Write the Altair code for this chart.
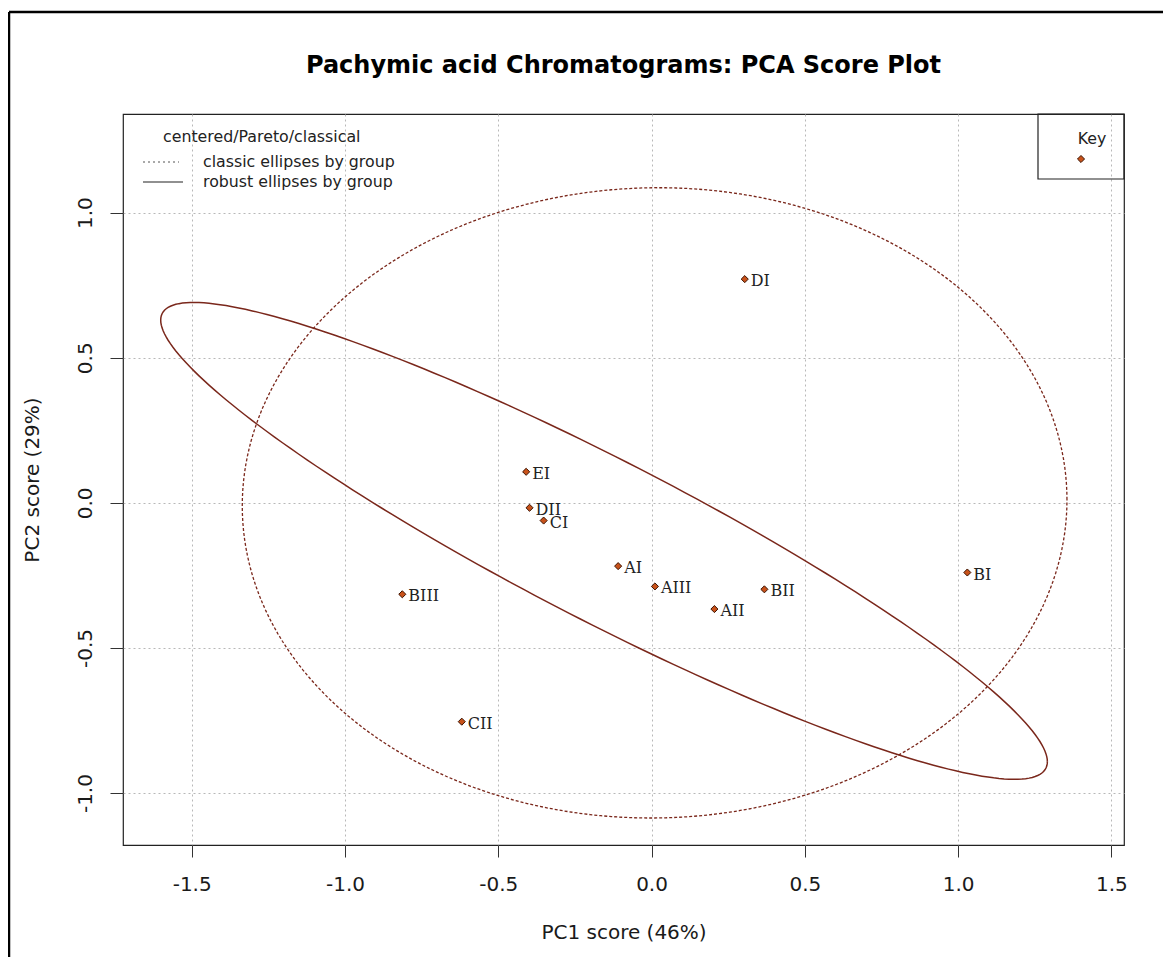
import altair as alt
import numpy as np
import pandas as pd

# ---- data ----
sample_labels = ["AI", "AII", "AIII", "BI", "BII", "BIII", "CI", "CII", "DI", "DII", "EI"]
pc1_scores = [-0.109, 0.205, 0.011, 1.030, 0.368, -0.813, -0.352, -0.619, 0.304, -0.398, -0.409]
pc2_scores = [-0.218, -0.366, -0.288, -0.240, -0.298, -0.315, -0.061, -0.754, 0.771, -0.017, 0.107]

x_ticks = [-1.5, -1.0, -0.5, 0.0, 0.5, 1.0, 1.5]
y_ticks = [-1.0, -0.5, 0.0, 0.5, 1.0]
x_domain = [-1.724, 1.541]
y_domain = [-1.179, 1.340]

# ellipse parameters (centre, shape matrix sxx, syy, sxy)
classic_center = [0.01, 0.0]
classic_shape = [1.345 ** 2, 1.086 ** 2, 0.014]
robust_center = [-0.155, -0.131]
robust_shape = [2.091, 0.675, -1.100]

chart_title = "Pachymic acid Chromatograms: PCA Score Plot"
legend_title = "centered/Pareto/classical"
legend_entries = ["classic ellipses by group", "robust ellipses by group"]
key_label = "Key"

ELL_COLOR = "#7a271b"
PT_FILL = "#c8521a"
PT_STROKE = "#3b1200"
SANS = "DejaVu Sans"


def ellipse_path(center, shape, n=241):
    sxx, syy, sxy = shape
    m = np.array([[sxx, sxy], [sxy, syy]])
    L = np.linalg.cholesky(m)
    t = np.linspace(0, 2 * np.pi, n)
    pts = L @ np.vstack([np.cos(t), np.sin(t)])
    return pd.DataFrame({"pc1": pts[0] + center[0], "pc2": pts[1] + center[1], "idx": np.arange(n)})


points_df = pd.DataFrame({"pc1": pc1_scores, "pc2": pc2_scores, "label": sample_labels})
classic_df = ellipse_path(classic_center, classic_shape)
robust_df = ellipse_path(robust_center, robust_shape)

label_expr = "datum.value < 0 ? '-' + format(-datum.value, '.1f') : format(datum.value, '.1f')"


def x_enc():
    return alt.X(
        "pc1:Q",
        scale=alt.Scale(domain=x_domain, nice=False, zero=False),
        axis=alt.Axis(
            values=x_ticks, labelExpr=label_expr, title="PC1 score (46%)",
            tickSize=12, tickColor="#333", tickWidth=1, domain=False,
            grid=True, gridDash=[2, 3], gridColor="#b8b8b8", gridWidth=1,
            labelFont=SANS, labelFontSize=20, labelColor="#1a1a1a", labelPadding=17,
            titleFont=SANS, titleFontSize=20, titleFontWeight="normal", titleColor="#1a1a1a",
            titlePadding=28, labelFlush=False, labelOverlap=False,
        ),
    )


def y_enc():
    return alt.Y(
        "pc2:Q",
        scale=alt.Scale(domain=y_domain, nice=False, zero=False),
        axis=alt.Axis(
            values=y_ticks, labelExpr=label_expr, title="PC2 score (29%)",
            tickSize=13, tickColor="#333", tickWidth=1, domain=False,
            grid=True, gridDash=[2, 3], gridColor="#b8b8b8", gridWidth=1,
            labelFont=SANS, labelFontSize=20, labelColor="#1a1a1a", labelPadding=15,
            labelAngle=270, labelAlign="center", labelBaseline="bottom",
            titleFont=SANS, titleFontSize=20, titleFontWeight="normal", titleColor="#1a1a1a",
            titlePadding=33, labelFlush=False, labelOverlap=False,
        ),
    )


classic_layer = alt.Chart(classic_df).mark_line(
    color=ELL_COLOR, strokeWidth=1.3, strokeDash=[3, 2]
).encode(x=x_enc(), y=y_enc(), order="idx:Q")

robust_layer = alt.Chart(robust_df).mark_line(
    color=ELL_COLOR, strokeWidth=1.5
).encode(x=x_enc(), y=y_enc(), order="idx:Q")

point_layer = alt.Chart(points_df).mark_point(
    shape="diamond", filled=True, fill=PT_FILL, stroke=PT_STROKE, strokeWidth=1, size=50, opacity=1
).encode(x=x_enc(), y=y_enc())

text_layer = alt.Chart(points_df).mark_text(
    align="left", baseline="middle", dx=6, dy=2, font="DejaVu Serif", fontSize=16, color="#222"
).encode(x=x_enc(), y=y_enc(), text="label:N")

# ---- decorations: title, legend, key box, figure frame ----
one = pd.DataFrame({"a": [0]})
base = alt.Chart(one)

title_mark = base.mark_text(align="center", baseline="alphabetic", font=SANS, fontSize=24,
                            fontWeight="bold", color="#000").encode(
    x=alt.value(500.5), y=alt.value(-41), text=alt.value(chart_title))

LEG_FS = 15.8
leg_title = base.mark_text(align="left", baseline="middle", font=SANS, fontSize=LEG_FS, color="#222").encode(
    x=alt.value(40), y=alt.value(23), text=alt.value(legend_title))
leg_t1 = base.mark_text(align="left", baseline="middle", font=SANS, fontSize=LEG_FS, color="#222").encode(
    x=alt.value(80), y=alt.value(48), text=alt.value(legend_entries[0]))
leg_t2 = base.mark_text(align="left", baseline="middle", font=SANS, fontSize=LEG_FS, color="#222").encode(
    x=alt.value(80), y=alt.value(68), text=alt.value(legend_entries[1]))
leg_l1 = base.mark_rule(color="#555", strokeWidth=1, strokeDash=[2, 3]).encode(
    x=alt.value(20), x2=alt.value(56), y=alt.value(48))
leg_l2 = base.mark_rule(color="#222", strokeWidth=1.2).encode(
    x=alt.value(20), x2=alt.value(60), y=alt.value(68))

key_box = base.mark_rect(fill="transparent", fillOpacity=0, stroke="#222", strokeWidth=1.2).encode(
    x=alt.value(915), x2=alt.value(1001), y=alt.value(0), y2=alt.value(65))
key_text = base.mark_text(align="center", baseline="middle", font=SANS, fontSize=LEG_FS, color="#222").encode(
    x=alt.value(969), y=alt.value(25), text=alt.value(key_label))
key_pt = base.mark_point(shape="diamond", filled=True, fill=PT_FILL, stroke=PT_STROKE, strokeWidth=1,
                         size=50, opacity=1).encode(x=alt.value(958), y=alt.value(45))

frame_top = base.mark_rule(color="#000", strokeWidth=2.5).encode(
    x=alt.value(-114), x2=alt.value(1040), y=alt.value(-102))
frame_left = base.mark_rule(color="#000", strokeWidth=2.5).encode(
    x=alt.value(-114), y=alt.value(-102), y2=alt.value(843))

chart = alt.layer(
    classic_layer, robust_layer, point_layer, text_layer, title_mark,
    leg_title, leg_t1, leg_t2, leg_l1, leg_l2,
    key_box, key_text, key_pt, frame_top, frame_left,
).properties(
    width=1001,
    height=731,
    autosize=alt.AutoSizeParams(type="none"),
    padding={"left": 115, "top": 106, "right": 39, "bottom": 112},
    background="white",
).configure_view(stroke="#222", strokeWidth=1.2)

chart.save("out.html", embed_options={"renderer": "svg", "actions": False})
